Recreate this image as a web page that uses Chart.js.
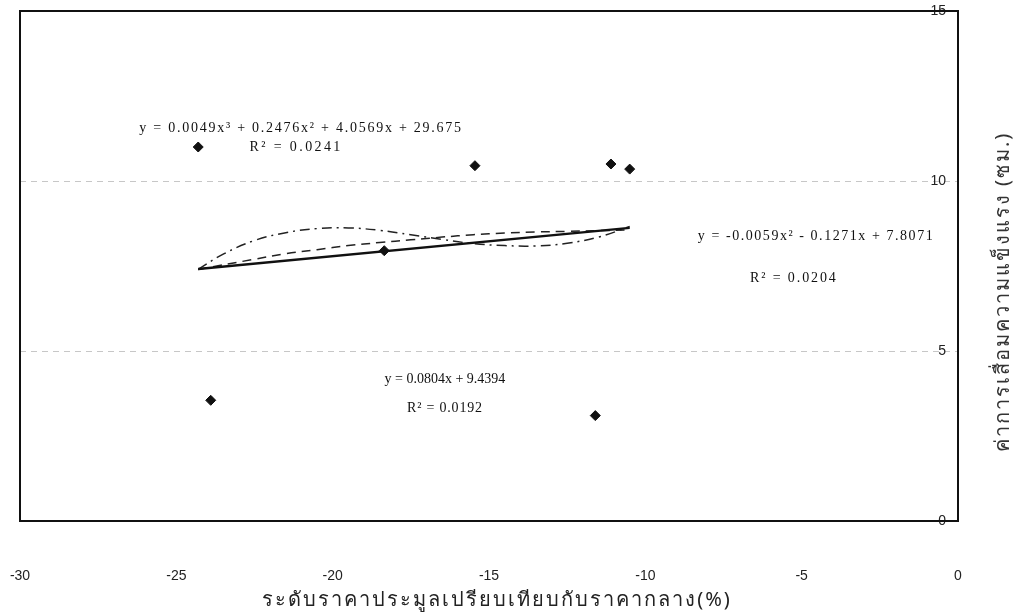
<!DOCTYPE html>
<html>
<head>
<meta charset="utf-8">
<script src="https://cdn.jsdelivr.net/npm/chart.js@4.4.0/dist/chart.umd.min.js"></script>
<style>
  html, body { margin: 0; padding: 0; background: #fff; }
</style>
</head>
<body>
<canvas id="chart" width="1027" height="616"></canvas>
<script>
// scatter points
const pointX = [-24.3, -23.9, -18.35, -15.45, -11.1, -10.5, -11.6];
const pointY = [11.0, 3.55, 7.95, 10.45, 10.5, 10.35, 3.1];

// trend lines
const linearX = [-24.3, -10.5];
const linearY = [7.41, 8.62];
const quadX = [-24.3, -22.5, -21.5, -20.5, -19.5, -18.5, -17.5, -16.5, -15.5, -14.5, -13.5, -12.5, -11.5, -10.5];
const quadY = [7.40, 7.70, 7.86, 7.98, 8.10, 8.19, 8.27, 8.35, 8.42, 8.47, 8.50, 8.52, 8.54, 8.56];
const cubicX = [-24.3, -23.5, -22.5, -21.5, -20.5, -19.5, -18.5, -17.5, -16.5, -15.5, -14.5, -13.5, -12.5, -11.5, -10.5];
const cubicY = [7.40, 7.85, 8.25, 8.48, 8.60, 8.62, 8.55, 8.42, 8.28, 8.16, 8.10, 8.09, 8.17, 8.35, 8.66];

const xTicks = [-30, -25, -20, -15, -10, -5, 0];
const yTicks = [0, 5, 10, 15];

const xTitle = 'ระดับราคาประมูลเปรียบเทียบกับราคากลาง(%)';
const yTitle = 'ค่าการเสื่อมความแข็งแรง (ซม.)';

const noteText = [
  'y = 0.0049x³ + 0.2476x² + 4.0569x + 29.675',
  'R² = 0.0241',
  'y = -0.0059x² - 0.1271x + 7.8071',
  'R² = 0.0204',
  'y = 0.0804x + 9.4394',
  'R² = 0.0192'
];

function toPoints(xs, ys) {
  return xs.map((x, i) => ({ x: x, y: ys[i] }));
}

// where the equation labels sit (data units) and how loose they are set
const notePos = [
  [-21.01, 11.56], [-21.17, 11.0], [-4.54, 8.38], [-5.25, 7.15], [-16.41, 4.18], [-16.41, 3.32]
];
const noteSpacing = [1.75, 2.4, 1.55, 1.9, 0, 0.8];

const framePlugin = {
  id: 'frame',
  afterDatasetsDraw(chart) {
    const { ctx, chartArea: a, scales } = chart;
    ctx.save();
    ctx.strokeStyle = '#111';
    ctx.lineWidth = 2;
    ctx.strokeRect(a.left, a.top, a.right - a.left, a.bottom - a.top);

    ctx.fillStyle = '#111';
    ctx.font = '14px "Liberation Serif", "Times New Roman", serif';
    ctx.textAlign = 'center';
    ctx.textBaseline = 'middle';
    noteText.forEach(function (t, i) {
      ctx.letterSpacing = noteSpacing[i] + 'px';
      ctx.fillText(t, scales.x.getPixelForValue(notePos[i][0]), scales.y.getPixelForValue(notePos[i][1]));
    });

    // axis titles
    ctx.letterSpacing = '2px';
    ctx.font = '20px "Noto Sans", "DejaVu Sans", sans-serif';
    ctx.fillStyle = '#222';
    ctx.fillText(xTitle, 497, 600);

    ctx.translate(1003, 292);
    ctx.rotate(-Math.PI / 2);
    ctx.fillStyle = '#333';
    ctx.fillText(yTitle, 0, 0);
    ctx.restore();
  }
};

new Chart(document.getElementById('chart'), {
  type: 'scatter',
  data: {
    datasets: [
      {
        data: toPoints(pointX, pointY),
        pointStyle: 'rectRot',
        pointRadius: 5,
        backgroundColor: '#111',
        borderColor: '#111',
        showLine: false
      },
      {
        data: toPoints(linearX, linearY),
        showLine: true,
        borderColor: '#111',
        borderWidth: 2.4,
        pointRadius: 0
      },
      {
        data: toPoints(quadX, quadY),
        showLine: true,
        borderColor: '#222',
        borderWidth: 1.5,
        borderDash: [9, 6],
        tension: 0.4,
        pointRadius: 0
      },
      {
        data: toPoints(cubicX, cubicY),
        showLine: true,
        borderColor: '#222',
        borderWidth: 1.5,
        borderDash: [10, 5, 2, 5],
        tension: 0.4,
        pointRadius: 0
      }
    ]
  },
  options: {
    responsive: false,
    animation: false,
    layout: { padding: { left: 20, right: 69, top: 11, bottom: 0 } },
    plugins: {
      legend: { display: false },
      tooltip: { enabled: false }
    },
    scales: {
      x: {
        type: 'linear',
        min: xTicks[0],
        max: xTicks[xTicks.length - 1],
        afterBuildTicks: function (scale) {
          scale.ticks = xTicks.map(v => ({ value: v }));
        },
        afterFit: function (scale) {
          scale.height = 95;
        },
        grid: {
          display: true,
          drawOnChartArea: false,
          drawTicks: true,
          tickLength: 44,
          tickColor: 'rgba(0,0,0,0)'
        },
        border: { display: false },
        ticks: {
          padding: 3,
          color: '#222',
          font: { family: '"Liberation Sans", Arial, sans-serif', size: 14 }
        }
      },
      y: {
        type: 'linear',
        position: 'right',
        min: yTicks[0],
        max: yTicks[yTicks.length - 1],
        afterBuildTicks: function (scale) {
          scale.ticks = yTicks.map(v => ({ value: v }));
        },
        afterFit: function (scale) {
          scale.width = 0;
        },
        grid: {
          color: 'rgba(0,0,0,0.22)',
          drawTicks: false
        },
        border: { display: false, dash: [6, 5] },
        ticks: {
          mirror: true,
          padding: -12,
          color: '#222',
          font: { family: '"Liberation Sans", Arial, sans-serif', size: 14 }
        }
      }
    }
  },
  plugins: [framePlugin]
});
</script>
</body>
</html>
